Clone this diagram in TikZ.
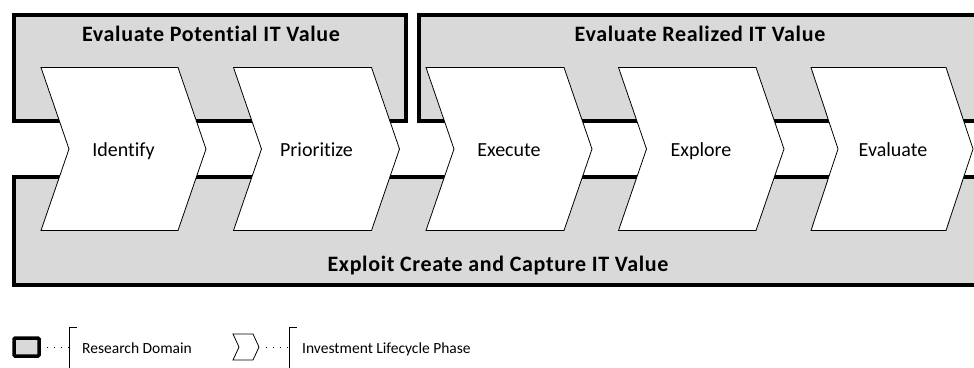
\documentclass[tikz,border=0pt]{standalone}
\usepackage{fontspec}
\setmainfont{Carlito}[Ligatures=NoCommon]
\newfontfamily\titlefont[LetterSpace=3,Ligatures=NoCommon]{Carlito}
\usepackage{tikz}
\definecolor{domaingray}{HTML}{D9D9D9}

\begin{document}
\begin{tikzpicture}[x=1pt,y=-1pt,
  researchbox/.style={draw=black, line width=4pt, fill=domaingray},
  phasebox/.style={draw=black, line width=0.8pt, fill=white, line join=miter},
  domaintitle/.style={font=\titlefont\fontsize{22}{26}\selectfont\bfseries, inner sep=0pt, anchor=base},
  phaselabel/.style={font=\fontsize{20}{24}\selectfont, inner sep=0pt, anchor=base},
  legendlabel/.style={font=\fontsize{15.5}{18}\selectfont, inner sep=0pt, anchor=base west},
  legenddots/.style={line width=1pt, dash pattern=on 1pt off 6pt}]
  \useasboundingbox (0,0) rectangle (974,367);
  \clip (0,0) rectangle (974,367);
  \begin{scope}

% research domains
\draw[researchbox] (14,15) rectangle (406,121);
\draw[researchbox] (419,15) rectangle (1000,121);
\draw[researchbox] (14,177) rectangle (1000,284.5);
\node[domaintitle] (d_pot) at (211,41.5) {Evaluate Potential IT Value};
\node[domaintitle] (d_rea) at (700,41.5) {Evaluate Realized IT Value};
\node[domaintitle] (d_exp) at (498,271.5) {Exploit Create and Capture IT Value};

% lifecycle phases
\draw[phasebox] (41,67.5) -- (178,67.5) -- (206,149) -- (178,230.5) -- (41,230.5) -- (69,149) -- cycle;
\node[phaselabel] (p_idf) at (123.5,156.5) {Identify};
\draw[phasebox] (233.5,67.5) -- (371.5,67.5) -- (399.5,149) -- (371.5,230.5) -- (233.5,230.5) -- (261.5,149) -- cycle;
\node[phaselabel] (p_pri) at (316.5,156.5) {Prioritize};
\draw[phasebox] (426,67.5) -- (564,67.5) -- (592,149) -- (564,230.5) -- (426,230.5) -- (454,149) -- cycle;
\node[phaselabel] (p_exe) at (509,156.5) {Execute};
\draw[phasebox] (618.5,67.5) -- (756,67.5) -- (784,149) -- (756,230.5) -- (618.5,230.5) -- (646.5,149) -- cycle;
\node[phaselabel] (p_exp) at (701,156.5) {Explore};
\draw[phasebox] (811,67.5) -- (946,67.5) -- (973,149) -- (946,230.5) -- (811,230.5) -- (838,149) -- cycle;
\node[phaselabel] (p_evl) at (893,156.5) {Evaluate};

% legend
\node[draw=black, line width=3.5pt, fill=domaingray, rounded corners=1pt,
  minimum width=25pt, minimum height=18pt, inner sep=0pt] (l_box) at (26.5,347) {};
\coordinate (l_brk1) at (69,347);
\draw[legenddots] ([xshift=6pt]l_box.east) -- (l_brk1);
\draw[line width=0.8pt] (77,327.5) -- (69,327.5) -- (69,370);
\node[legendlabel] (l_dom) at (82,353) {Research Domain};

\draw[phasebox] (233,334) -- (253,334) -- (259,347) -- (253,360) -- (233,360) -- (239,347) -- cycle;
\coordinate (l_chv) at (266,347);
\coordinate (l_brk2) at (289,347);
\draw[legenddots] (l_chv) -- (l_brk2);
\draw[line width=0.8pt] (297,327.5) -- (289,327.5) -- (289,370);
\node[legendlabel] (l_pha) at (302,353) {Investment Lifecycle Phase};
\end{scope}
\end{tikzpicture}
\end{document}
